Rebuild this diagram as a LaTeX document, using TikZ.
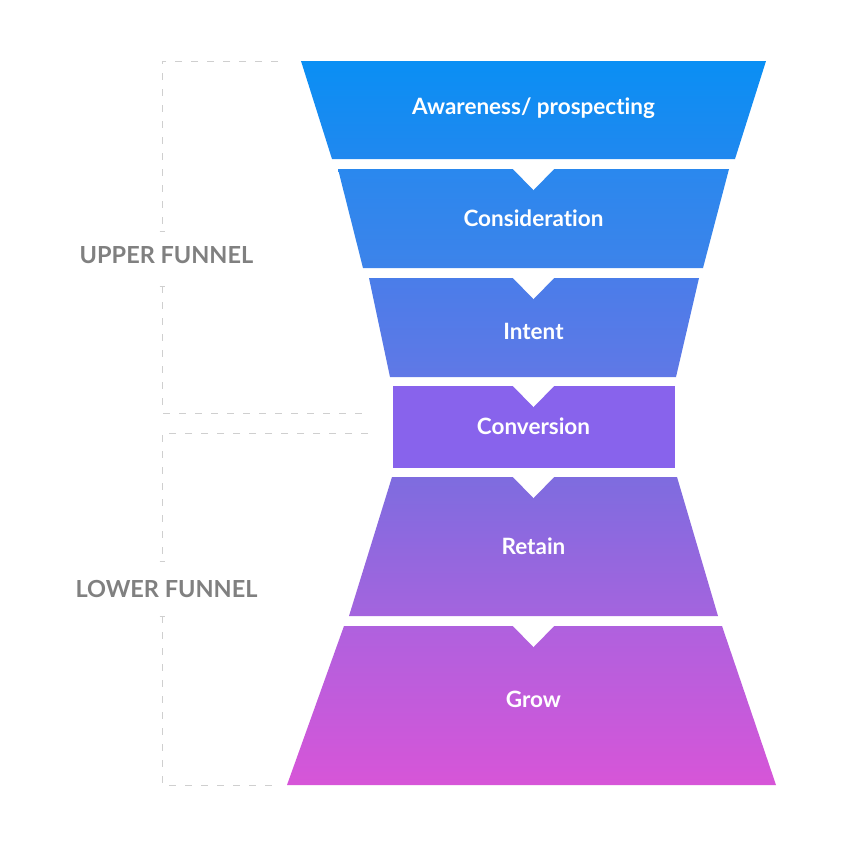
\documentclass[tikz,border=0pt]{standalone}
\usepackage{fontspec}
\setmainfont{Lato}[Ligatures=NoCommon]
\begin{document}
\begin{tikzpicture}[x=1pt,y=-1pt,
  lbl/.style={text=white,font=\bfseries\fontsize{22.5}{26}\selectfont},
  side/.style={text=labelgray,font=\bfseries\fontsize{23.5}{28}\selectfont},
  dashline/.style={draw=dashgray,line width=1pt,dash pattern=on 7pt off 9pt},
  notch/.style={fill=white,draw=none}]
\definecolor{labelgray}{HTML}{808080}
\definecolor{dashgray}{HTML}{CFCFCF}
\definecolor{aT}{HTML}{0A8FF4}\definecolor{aB}{HTML}{2088EF}
\definecolor{cT}{HTML}{2A88EE}\definecolor{cB}{HTML}{3D83EA}
\definecolor{iT}{HTML}{4A7DE9}\definecolor{iB}{HTML}{6078E6}
\definecolor{vC}{HTML}{8863EC}
\definecolor{rT}{HTML}{7E6CDF}\definecolor{rB}{HTML}{A464DE}
\definecolor{gT}{HTML}{AF61DE}\definecolor{gB}{HTML}{D755D8}
\useasboundingbox[fill=white] (0,0) rectangle (847,847);
% funnel shapes
\shade[top color=aT,bottom color=aB] (301,61) -- (766,61) -- (735,159) -- (332,159) -- cycle;
\shade[top color=cT,bottom color=cB] (338,169) -- (729,169) -- (703,268) -- (363,268) -- cycle;
\shade[top color=iT,bottom color=iB] (369,278) -- (699,278) -- (676,377) -- (390,377) -- cycle;
\fill[vC] (393,386) rectangle (675,468);
\shade[top color=rT,bottom color=rB] (392,477) -- (677,477) -- (718,616) -- (349,616) -- cycle;
\shade[top color=gT,bottom color=gB] (344,626) -- (722,626) -- (776,785) -- (287,785) -- cycle;
% notches
\foreach \t in {169,278,386,477,626}{
  \fill[notch] (512.5,\t-0.5) -- (554.5,\t-0.5) -- (533.5,\t+21) -- cycle;
}
% labels
\node[lbl] (aw) at (533.5,108) {Awareness/ prospecting};
\node[lbl] (co) at (533.5,218) {Considerat\kern0pt ion};
\node[lbl] (in) at (533.5,331) {Intent};
\node[lbl] (cv) at (533.5,426) {Conversion};
\node[lbl] (re) at (533.5,546) {Retain};
\node[lbl] (gr) at (533.5,699) {Grow};
\node[side] (up) at (166.5,255) {UPPER FUNNEL};
\node[side] (lo) at (166.5,589) {LOWER FUNNEL};
% brackets
\draw[dashline] (278,61) -- (162,61) -- (162,231);
\draw[dashline] (162,286) -- (162,413) -- (368,413);
\draw[dashline] (368,433) -- (162,433) -- (162,561);
\draw[dashline] (162,616) -- (162,785) -- (278,785);
\draw[draw=dashgray,line width=0.8pt] (159.5,231) -- (164.5,231);
\draw[draw=dashgray,line width=0.8pt] (159.5,286) -- (164.5,286);
\draw[draw=dashgray,line width=0.8pt] (159.5,561) -- (164.5,561);
\draw[draw=dashgray,line width=0.8pt] (159.5,616) -- (164.5,616);
\end{tikzpicture}
\end{document}
